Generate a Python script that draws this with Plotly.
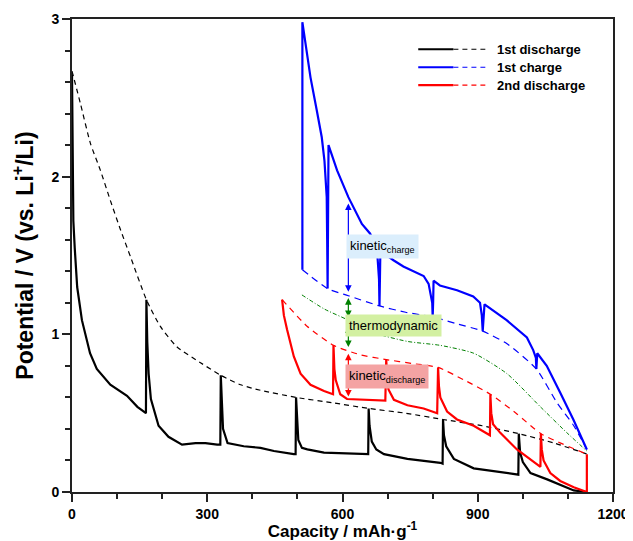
import plotly.graph_objects as go

# ---------------- data ----------------
# 1st discharge (GITT, solid black)
d1_cap = [0, 1, 2, 3, 6, 11.5, 22, 40, 55, 85, 122, 145, 164,
          165, 167, 170, 175, 192, 214, 244, 274, 296, 322, 329,
          330, 332, 335, 345, 381, 418, 448, 492, 496,
          497, 499, 502, 510, 522, 559, 655, 657,
          658, 660, 665, 675, 692, 744, 817, 822,
          823, 825, 830, 847, 891, 943, 989, 990,
          991, 994, 1000, 1017, 1054, 1098, 1113, 1140]
d1_v = [2.65, 2.30, 1.95, 1.72, 1.55, 1.30, 1.09, 0.88, 0.78, 0.68, 0.61, 0.54, 0.50,
        1.22, 0.95, 0.75, 0.59, 0.42, 0.35, 0.30, 0.31, 0.31, 0.30, 0.30,
        0.74, 0.55, 0.40, 0.31, 0.29, 0.28, 0.26, 0.24, 0.24,
        0.60, 0.45, 0.33, 0.28, 0.27, 0.25, 0.24, 0.24,
        0.53, 0.42, 0.32, 0.27, 0.24, 0.21, 0.185, 0.18,
        0.46, 0.36, 0.29, 0.21, 0.15, 0.13, 0.11, 0.11,
        0.37, 0.25, 0.19, 0.12, 0.08, 0.027, 0.01, 0.0]
# 1st discharge quasi-equilibrium (dashed black)
d1_eq_cap = [0, 19, 41, 63, 85, 108, 130, 165, 196, 233, 285, 330, 374, 418,
             497, 580, 658, 740, 823, 910, 991, 1070, 1143]
d1_eq_v = [2.67, 2.46, 2.21, 2.04, 1.85, 1.66, 1.49, 1.22, 1.05, 0.92, 0.82, 0.74, 0.68, 0.645,
           0.60, 0.565, 0.53, 0.50, 0.46, 0.42, 0.37, 0.31, 0.24]

# 1st charge (GITT, solid blue) - in time order, capacity counted backwards
c1_cap = [1142, 1112, 1083, 1053, 1032, 1031, 1030, 1029, 1023, 1009, 964,
          915, 913, 911, 909, 905, 890, 854, 816,
          802, 801, 800, 799, 791, 780, 735, 713,
          684, 683, 682, 681, 676, 661, 643, 613, 588,
          569, 568, 567, 566, 565, 560, 554, 543, 529, 511, 511]
c1_v = [0.27, 0.46, 0.63, 0.80, 0.88, 0.85, 0.78, 0.85, 0.90, 0.98, 1.09,
        1.19, 1.10, 1.02, 1.12, 1.20, 1.24, 1.28, 1.31,
        1.34, 1.20, 1.11, 1.20, 1.32, 1.37, 1.43, 1.47,
        1.53, 1.35, 1.18, 1.35, 1.56, 1.64, 1.70, 1.87, 2.04,
        2.20, 1.70, 1.29, 1.60, 1.87, 2.10, 2.25, 2.42, 2.63, 2.98, 1.41]
# 1st charge quasi-equilibrium (dashed blue)
c1_eq_cap = [511, 567, 613, 682, 740, 800, 850, 911, 965, 1030, 1076, 1113, 1142]
c1_eq_v = [1.41, 1.29, 1.245, 1.18, 1.14, 1.11, 1.07, 1.02, 0.94, 0.78, 0.565, 0.42, 0.27]

# 2nd discharge (GITT, solid red)
d2_cap = [466, 470, 477, 492, 507, 529, 559, 579,
          580, 582, 585, 595, 610, 640, 695,
          697, 699, 702, 714, 744, 780, 810,
          812, 814, 817, 832, 854, 891, 927,
          928, 930, 934, 950, 987, 1039,
          1040, 1042, 1046, 1061, 1083, 1113, 1142, 1142]
d2_v = [1.22, 1.12, 1.03, 0.86, 0.75, 0.68, 0.64, 0.62,
        0.93, 0.78, 0.71, 0.62, 0.59, 0.585, 0.58,
        0.84, 0.72, 0.65, 0.585, 0.55, 0.53, 0.50,
        0.79, 0.67, 0.60, 0.51, 0.46, 0.42, 0.36,
        0.62, 0.50, 0.43, 0.375, 0.27, 0.16,
        0.37, 0.27, 0.20, 0.12, 0.07, 0.03, 0.0, 0.24]
# 2nd discharge quasi-equilibrium (dashed red)
d2_eq_cap = [466, 522, 580, 640, 697, 755, 812, 870, 928, 985, 1040, 1142]
d2_eq_v = [1.22, 1.05, 0.93, 0.87, 0.84, 0.815, 0.79, 0.71, 0.62, 0.50, 0.37, 0.24]

# thermodynamic mean (green dash-dot)
th_cap = [510, 560, 613, 669, 744, 817, 891, 965, 1039, 1098, 1142]
th_v = [1.25, 1.16, 1.09, 1.01, 0.955, 0.93, 0.88, 0.75, 0.54, 0.375, 0.26]

legend_names = ["1st discharge", "1st charge", "2nd discharge"]
legend_colors = ["black", "#0000ff", "#ff0000"]

x_ticks = [0, 300, 600, 900, 1200]
y_ticks = [0, 1, 2, 3]

# arrows: (V top, V bottom, colour) at one capacity
arrow_cap = 613
arrows = [(1.83, 1.26, "#0000ff"), (1.23, 1.10, "#008000"),
          (1.05, 0.91, "#008000"), (0.877, 0.596, "#ff0000")]
labels = [
    (688, 1.56, "kinetic<sub>charge</sub>", "#dbeefc"),
    (713, 1.054, "thermodynamic", "#d3f0a2"),
    (699, 0.73, "kinetic<sub>discharge</sub>", "#f4a3a3"),
]

FONT = "Liberation Sans, Arial, sans-serif"

fig = go.Figure()
fig.add_trace(go.Scatter(x=d1_eq_cap, y=d1_eq_v, mode="lines", line=dict(color="black", width=1.2, dash="5px,4px", shape="spline", smoothing=0.6), showlegend=False))
fig.add_trace(go.Scatter(x=c1_eq_cap, y=c1_eq_v, mode="lines", line=dict(color="#0000ff", width=1.2, dash="7px,5px", shape="spline", smoothing=0.6), showlegend=False))
fig.add_trace(go.Scatter(x=d2_eq_cap, y=d2_eq_v, mode="lines", line=dict(color="#ff0000", width=1.2, dash="6px,5px", shape="spline", smoothing=0.6), showlegend=False))
fig.add_trace(go.Scatter(x=th_cap, y=th_v, mode="lines", line=dict(color="#008000", width=1.0, dash="4px,2px,1px,2px", shape="spline", smoothing=0.6), showlegend=False))
fig.add_trace(go.Scatter(x=d1_cap, y=d1_v, mode="lines", line=dict(color="black", width=2.2), showlegend=False))
fig.add_trace(go.Scatter(x=c1_cap, y=c1_v, mode="lines", line=dict(color="#0000ff", width=2.2), showlegend=False))
fig.add_trace(go.Scatter(x=d2_cap, y=d2_v, mode="lines", line=dict(color="#ff0000", width=2.2), showlegend=False))

ann = []
for top, bot, col in arrows:
    ann.append(dict(x=arrow_cap, y=top, ax=arrow_cap, ay=bot, xref="x", yref="y",
                    axref="x", ayref="y", text="", showarrow=True, arrowhead=2,
                    arrowside="end+start", arrowsize=1.1, arrowwidth=1.2, arrowcolor=col,
                    standoff=0, startstandoff=0))
for lx, ly, txt, bg in labels:
    ann.append(dict(x=lx, y=ly, xref="x", yref="y", text=txt, showarrow=False,
                    bgcolor=bg, borderpad=3, font=dict(family=FONT, size=13, color="black")))

# custom legend: solid + dashed sample then text
shapes = []
row_y = [0.936, 0.898, 0.860]
for i, (name, col) in enumerate(zip(legend_names, legend_colors)):
    yy = row_y[i]
    shapes.append(dict(type="line", xref="paper", yref="paper", x0=0.640, x1=0.705, y0=yy, y1=yy,
                       line=dict(color=col, width=2.2)))
    shapes.append(dict(type="line", xref="paper", yref="paper", x0=0.705, x1=0.764, y0=yy, y1=yy,
                       line=dict(color=col, width=1.2, dash="5px,4px")))
    ann.append(dict(x=0.782, y=yy, xref="paper", yref="paper", text=name, showarrow=False,
                    xanchor="left", yanchor="middle",
                    font=dict(family=FONT, size=13, color="black", weight="bold")))

# the page body adds an 8px offset, so the figure is 8px smaller and margins shifted
fig.update_layout(
    width=625, height=533,
    margin=dict(l=63.5, r=20, t=10.5, b=48.5, autoexpand=False),
    paper_bgcolor="white", plot_bgcolor="white",
    font=dict(family=FONT, size=14, color="black"),
    showlegend=False,
    annotations=ann, shapes=shapes,
)
axis_common = dict(showgrid=False, zeroline=False, showline=True, linecolor="#222", linewidth=1.6,
                   mirror=True, ticks="outside", ticklen=8, tickwidth=1.5, tickcolor="#222",
                   automargin=False,
                   tickfont=dict(family=FONT, size=14, color="black", weight="bold"))
fig.update_xaxes(range=[0, 1200], tickvals=x_ticks, ticktext=[str(v) for v in x_ticks],
                 minor=dict(dtick=100, ticks="outside", ticklen=5, tickwidth=1.5, tickcolor="#222"),
                 title=dict(text="Capacity / mAh·g<sup>-1</sup>", standoff=8,
                            font=dict(family=FONT, size=17, color="black", weight="bold")),
                 **axis_common)
fig.update_yaxes(range=[0, 3], tickvals=y_ticks, ticktext=[str(v) for v in y_ticks],
                 minor=dict(dtick=0.2, ticks="outside", ticklen=5, tickwidth=1.5, tickcolor="#222"),
                 title=dict(text="Potential / V (vs. Li<sup>+</sup>/Li)", standoff=14,
                            font=dict(family=FONT, size=23, color="black", weight="bold")),
                 **axis_common)

fig.write_html("out.html")
